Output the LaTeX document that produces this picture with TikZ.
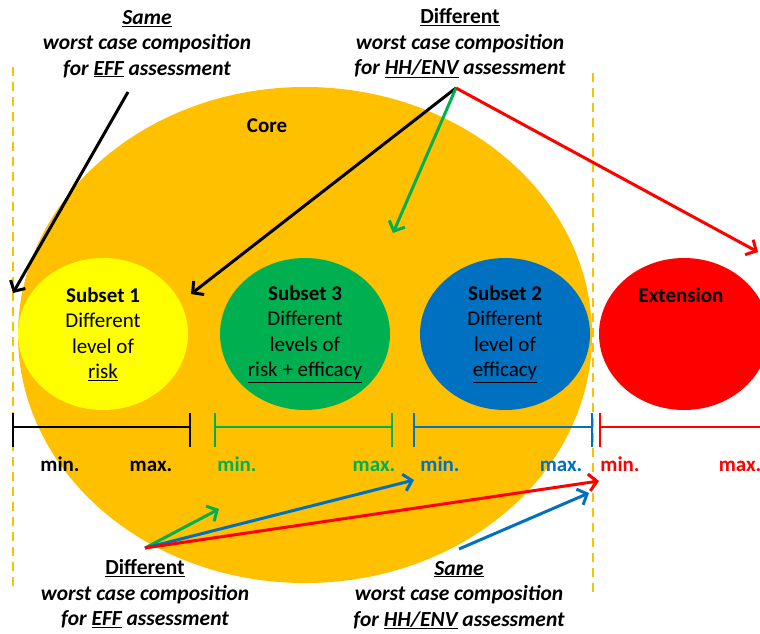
\documentclass[tikz,border=0pt]{standalone}
\usepackage{fontspec}
\setmainfont{Carlito}
\usetikzlibrary{arrows.meta,shapes.geometric}
\definecolor{coreorange}{HTML}{FFC000}
\definecolor{subyellow}{HTML}{FFFF00}
\definecolor{subgreen}{HTML}{00B050}
\definecolor{subblue}{HTML}{0070C0}
\definecolor{extred}{HTML}{FF0000}
\begin{document}
\begin{tikzpicture}[x=1pt,y=-1pt,
  blob/.style={ellipse, inner sep=0pt, minimum width=170pt, minimum height=152pt,
    align=center, font=\fontsize{21}{25.5}\selectfont},
  note/.style={align=center, inner sep=0pt,
    font=\fontsize{21.5}{25.5}\selectfont\bfseries\itshape},
  tag/.style={inner sep=0pt, anchor=base, font=\fontsize{21}{22}\selectfont\bfseries},
  arr/.style={line width=3pt, -{Straight Barb[length=8pt,width=17pt,line width=3pt]}},
  rng/.style={line width=2.5pt},
  guide/.style={coreorange, line width=2.2pt, dash pattern=on 9pt off 6pt}]
\useasboundingbox (0,0) rectangle (760,633);

% core region
\node[ellipse, fill=coreorange, inner sep=0pt, minimum width=574pt, minimum height=496pt] (core) at (305,335) {};
\node[tag] (coretag) at (267,132) {Core};

% boundary guides
\draw[guide] (13,67) -- (13,591);
\draw[guide] (593,73) -- (593,597);

% subsets and extension
\node[blob, fill=subyellow] (s1) at (103,334) {\textbf{Subset 1}\\Different\\level of\\\underline{risk}};
\node[blob, fill=subgreen] (s3) at (305,334) {\textbf{Subset 3}\\Different\\levels of\\\underline{risk + efficacy}};
\node[blob, fill=subblue] (s2) at (505,334) {\textbf{Subset 2}\\Different\\level of\\\underline{efficacy}};
\node[blob, fill=extred] (ext) at (684,334) {};
\node[tag] (exttag) at (681,302) {Extension};

% ranges
\draw[rng, black] (13,413) -- (13,447) (13,427) -- (190,427) (190,413) -- (190,447);
\draw[rng, subgreen] (215,413) -- (215,447) (215,427) -- (392,427) (392,413) -- (392,447);
\draw[rng, subblue] (414,413) -- (414,447) (414,427) -- (592,427) (592,413) -- (592,447);
\draw[rng, extred] (600,413) -- (600,447) (600,427) -- (770,427);

\node[tag, black] (min1) at (60,471) {min.};
\node[tag, black] (max1) at (151,471) {max.};
\node[tag, subgreen] (min3) at (237,471) {min.};
\node[tag, subgreen] (max3) at (374,471) {max.};
\node[tag, subblue] (min2) at (440,471) {min.};
\node[tag, subblue] (max2) at (561,471) {max.};
\node[tag, extred] (mine) at (620,471) {min.};
\node[tag, extred] (maxe) at (740,471) {max.};

% annotations
\node[note] (tl) at (147,44) {\underline{Same}\\worst case composition\\for \underline{EFF} assessment};
\node[note] (tc) at (460,43) {\upshape\underline{Different}\\worst case composition\\for \underline{HH/ENV} assessment};
\node[note] (bl) at (145,594) {\upshape\underline{Different}\\worst case composition\\for \underline{EFF} assessment};
\node[note] (br) at (459,595) {\underline{Same}\\worst case composition\\for \underline{HH/ENV} assessment};

% arrow anchors
\coordinate (tlfoot) at (128,92);
\coordinate (tcfoot) at (456,88);
\coordinate (blfoot) at (145,548);
\coordinate (brfoot) at (459,549);
\coordinate (coreedge) at (13,293);
\coordinate (s1edge) at (191,294);
\coordinate (coreinner) at (393,233);
\coordinate (extedge) at (758,252);
\coordinate (greenmin) at (219,509);
\coordinate (bluemin) at (414,480);
\coordinate (redmin) at (599,481);
\coordinate (bluemax) at (589,493);

\draw[arr, black] (tlfoot) -- (coreedge);
\draw[arr, black] (tcfoot) -- (s1edge);
\draw[arr, subgreen] (tcfoot) -- (coreinner);
\draw[arr, extred] (tcfoot) -- (extedge);
\draw[arr, subgreen] (blfoot) -- (greenmin);
\draw[arr, subblue] (blfoot) -- (bluemin);
\draw[arr, extred] (blfoot) -- (redmin);
\draw[arr, subblue] (brfoot) -- (bluemax);
\end{tikzpicture}
\end{document}
